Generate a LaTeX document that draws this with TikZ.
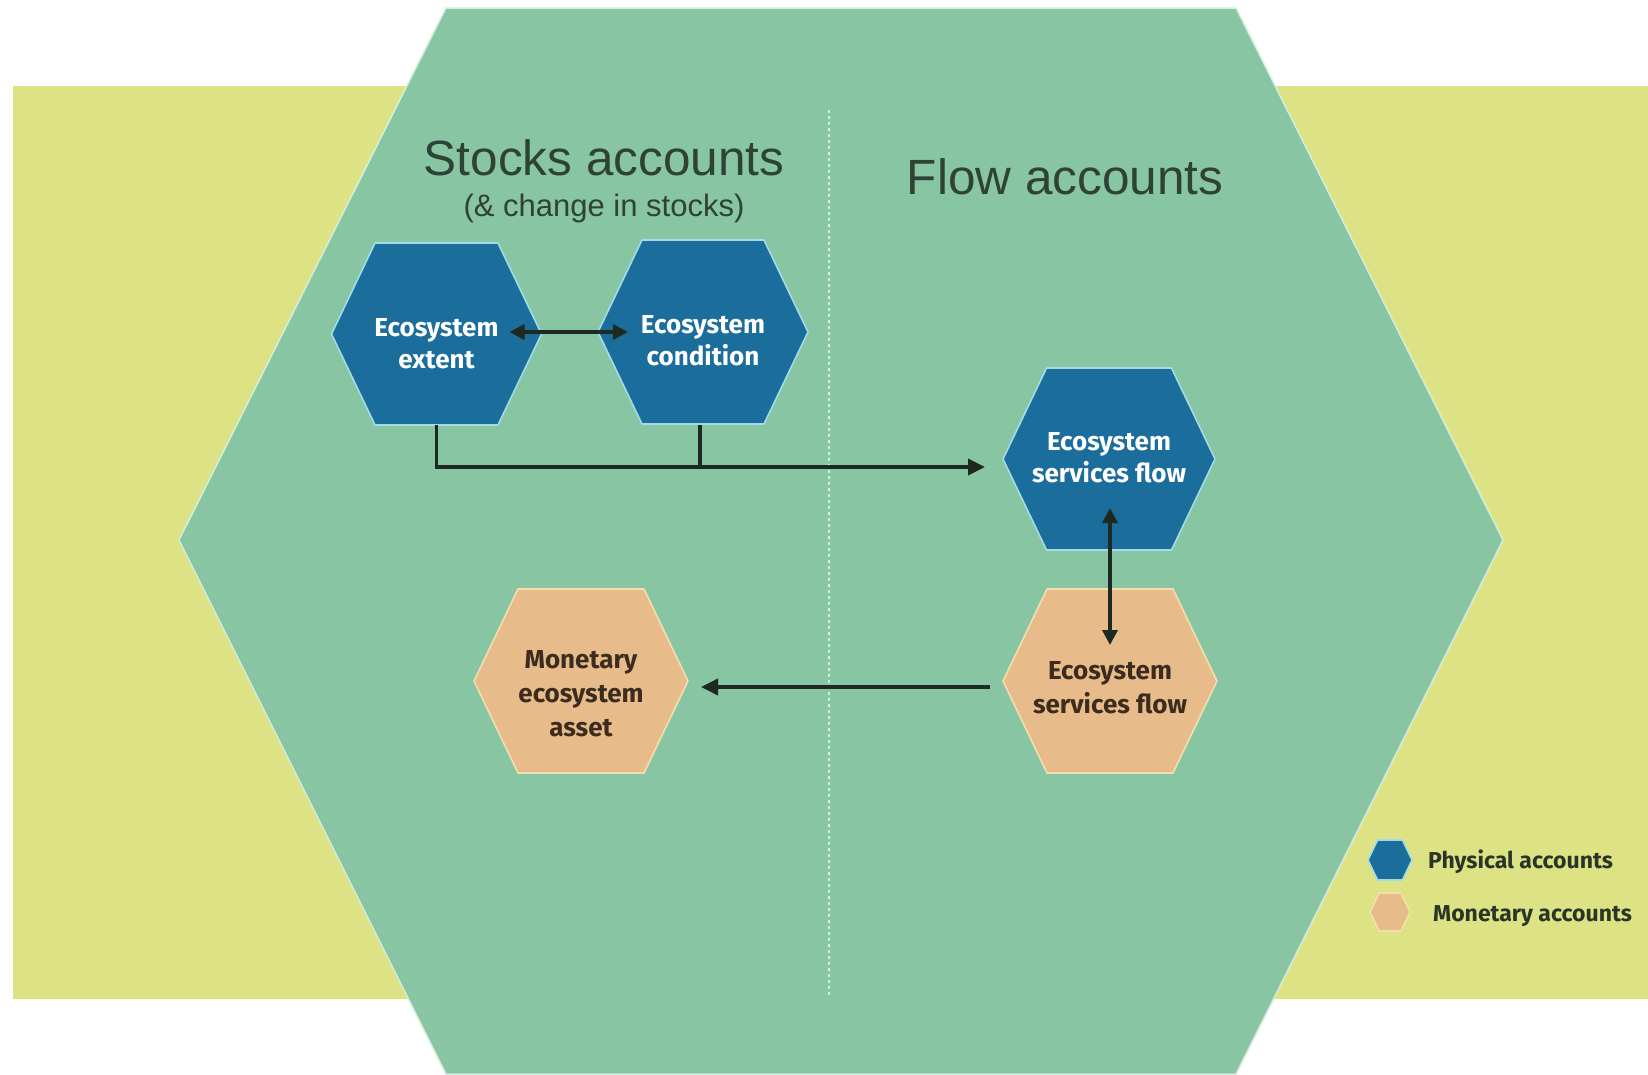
\documentclass[tikz,border=0pt]{standalone}
\usepackage{fontspec}
\setmainfont{Liberation Sans}
\newfontfamily\firab{Fira Sans}
\usetikzlibrary{arrows.meta,calc}
\definecolor{bgyel}{HTML}{DDE385}
\definecolor{hexgreen}{HTML}{88C5A3}
\definecolor{hexedge}{HTML}{D2EEDD}
\definecolor{pblue}{HTML}{1B6E9B}
\definecolor{morange}{HTML}{E8BC8A}
\definecolor{pblueedge}{HTML}{A3DCE6}
\definecolor{morangeedge}{HTML}{F4DEAF}
\definecolor{titlec}{HTML}{2F4236}
\definecolor{arrowc}{HTML}{1C2A22}
\definecolor{monotext}{HTML}{3B2C1E}
\definecolor{legtext}{HTML}{2A3526}
\newcommand\hexfill[5]{% center, fill, edge, halfwidth, halfheight
  \filldraw[fill=#2,draw=#3,line width=1.6pt,line join=round]
    ($#1+(-#4,0)$) -- ($#1+(-#4+44*#5/92,-#5)$) -- ($#1+(#4-44*#5/92,-#5)$) --
    ($#1+(#4,0)$) -- ($#1+(#4-44*#5/92,#5)$) -- ($#1+(-#4+44*#5/92,#5)$) -- cycle;}
\tikzset{
  bluetext/.style={text=white, font=\firab\bfseries\fontsize{26}{32}\selectfont, align=center, inner sep=0pt},
  orangetext/.style={text=monotext, font=\firab\bfseries\fontsize{26}{34}\selectfont, align=center, inner sep=0pt},
  titletext/.style={text=titlec, inner sep=0pt},
  legendtext/.style={text=legtext, font=\firab\bfseries\fontsize{23}{28}\selectfont, anchor=west, inner sep=0pt},
  conn/.style={draw=arrowc, line width=3.6pt},
  tip/.style={-{Triangle[length=17pt,width=16pt]}},
  bitip/.style={{Triangle[length=15pt,width=15pt]}-{Triangle[length=15pt,width=15pt]}}
}
\begin{document}
\begin{tikzpicture}[x=1pt,y=-1pt]
\useasboundingbox (0,0) rectangle (1648,1074);
\fill[white] (0,0) rectangle (1648,1074);
% yellow band
\fill[bgyel] (13,86) rectangle (1648,999);
% big hexagon
\filldraw[fill=hexgreen,draw=hexedge,line width=1.5pt]
  (179,540) -- (446,8) -- (1236,8) -- (1503,540) -- (1236,1074) -- (446,1074) -- cycle;
% divider
\draw[draw=hexedge, line width=1.2pt, dash pattern=on 3pt off 3pt] (829,110) -- (829,998);
% titles
\node[titletext, font=\fontsize{49.5}{56}\selectfont] (stocks) at (604,158) {Stocks accounts};
\node[titletext, font=\fontsize{31}{36}\selectfont] (stocksub) at (604,208) {(\& change in stocks)};
\node[titletext, font=\fontsize{49.5}{56}\selectfont] (flow) at (1065,177) {Flow accounts};
% hex centres
\coordinate (ext) at (436.5,334);
\coordinate (cond) at (703,332);
\coordinate (esfb) at (1109,459);
\coordinate (esfo) at (1110,681);
\coordinate (mon) at (581,681);
\hexfill{(ext)}{pblue}{pblueedge}{105}{91}
\hexfill{(cond)}{pblue}{pblueedge}{105}{92}
\hexfill{(esfb)}{pblue}{pblueedge}{106}{91}
\hexfill{(esfo)}{morange}{morangeedge}{107}{92}
\hexfill{(mon)}{morange}{morangeedge}{107}{92}
% hex texts
\node[bluetext] (extT) at ($(ext)+(0,10)$) {Ecosystem\\extent};
\node[bluetext] (condT) at ($(cond)+(0,9)$) {Ecosystem\\condition};
\node[bluetext] (esfbT) at ($(esfb)+(0,-1)$) {Ecosystem\\services flow};
\node[orangetext] (esfoT) at ($(esfo)+(0,7)$) {Ecosystem\\services flow};
\node[orangetext] (monT) at ($(mon)+(0,13)$) {Monetary\\ecosystem\\asset};
% connectors
\draw[conn,bitip] ($(ext)+(73,-2)$) -- ($(cond)+(-75,0)$);
\coordinate (extB) at ($(ext)+(0,91)$);
\coordinate (condB) at ($(cond)+(-3,93)$);
\coordinate (elbow) at ($(ext)+(0,133)$);
\coordinate (junc) at ($(condB)+(0,42)$);
\draw[conn,line join=miter] (extB) -- (elbow) -- (junc);
\draw[conn] (condB) -- (junc);
\draw[conn,tip] (junc) -- ($(esfb)+(-124,8)$);
\draw[conn,bitip] ($(esfb)+(1,49)$) -- ($(esfo)+(0,-36)$);
\draw[conn,tip] ($(esfo)+(-120,6)$) -- ($(mon)+(120,6)$);
% legend
\coordinate (legP) at (1390,860);
\coordinate (legM) at (1390,912);
\hexfill{(legP)}{pblue}{pblueedge}{22}{20}
\hexfill{(legM)}{morange}{morangeedge}{20}{19}
\node[legendtext] (legPT) at (1428,862) {Physical accounts};
\node[legendtext] (legMT) at (1433,916) {Monetary accounts};
\end{tikzpicture}
\end{document}
